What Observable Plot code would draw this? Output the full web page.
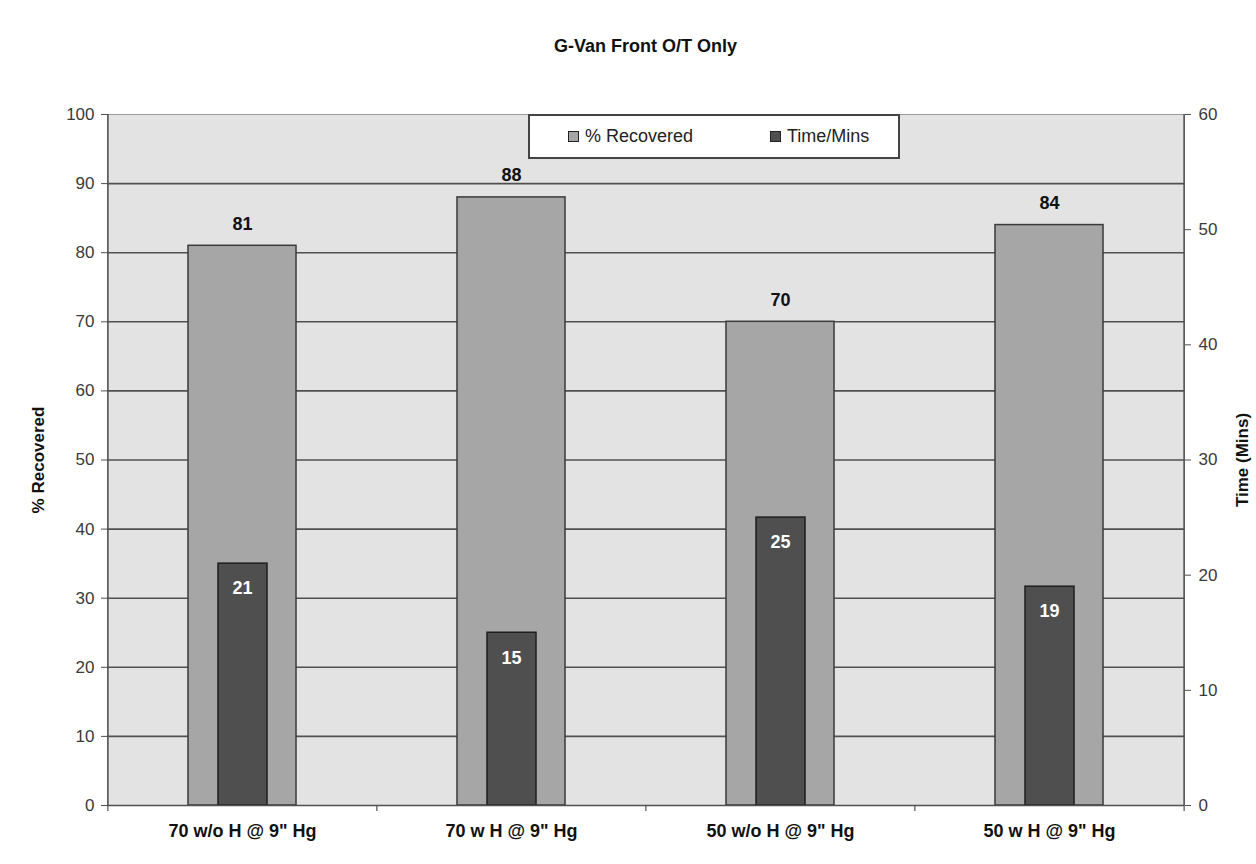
<!DOCTYPE html>
<html>
<head>
<meta charset="utf-8">
<script src="https://cdn.jsdelivr.net/npm/d3@7"></script>
<script src="https://cdn.jsdelivr.net/npm/@observablehq/plot@0.6"></script>
<style>
  html, body { margin: 0; padding: 0; background: #ffffff; }
  body { width: 1256px; height: 864px; position: relative; font-family: "Liberation Sans", Arial, sans-serif; }
  #title { height: 80px; box-sizing: border-box; padding-left: 35px; padding-top: 36px;
           text-align: center; font-weight: bold; font-size: 18px; color: #111; }
  #legend { position: absolute; left: 528px; top: 114px; width: 372px; height: 45px; box-sizing: border-box;
            background: #fff; border: 2px solid #444; font-size: 18px; color: #222; }
  #legend .item { display: flex; align-items: center; position: absolute; top: 0; height: 41px; }
  #legend .sw { width: 9px; height: 9px; border: 1px solid #222; margin-right: 6px; }
</style>
</head>
<body>
<div id="title">G-Van Front O/T Only</div>
<div id="chart"></div>
<div id="legend">
  <div class="item" style="left:38px"><span class="sw" style="background:#a6a6a6"></span>% Recovered</div>
  <div class="item" style="left:240px"><span class="sw" style="background:#4f4f4f"></span>Time/Mins</div>
</div>
<script>
// Test configurations along the x axis
const categories = ["70 w/o H @ 9\" Hg", "70 w H @ 9\" Hg", "50 w/o H @ 9\" Hg", "50 w H @ 9\" Hg"];
// Percent recovered (left axis, 0–100)
const recovered = [81, 88, 70, 84];
// Recovery time in minutes (right axis, 0–60)
const timeMins = [21, 15, 25, 19];
// Tick values for both axes
const leftTicks = [0, 10, 20, 30, 40, 50, 60, 70, 80, 90, 100];
const rightTicks = [0, 10, 20, 30, 40, 50, 60];

const rows = categories.map((cat, i) => ({cat, recovered: recovered[i], time: timeMins[i]}));

// Minutes are drawn on the percentage scale: 60 min spans the full 0–100 range
const toLeft = m => m * 100 / 60;

const width = 1256, height = 784;
const marginLeft = 107, marginRight = 72, marginTop = 34, marginBottom = 59;
const step = (width - marginLeft - marginRight) / categories.length;

const tickFont = {fontSize: 17, fill: "#3a3a3a"};

const chart = Plot.plot({
  width, height, marginLeft, marginRight, marginTop, marginBottom,
  style: {fontFamily: "'Liberation Sans', Arial, sans-serif", background: "transparent", overflow: "visible"},
  x: {domain: categories, paddingInner: 0.6, paddingOuter: 0.3},
  y: {domain: [0, 100]},
  marks: [
    Plot.frame({fill: "#e3e3e3"}),
    Plot.gridY(leftTicks.filter(t => t > 0 && t < 100), {stroke: "#505050", strokeOpacity: 1, strokeWidth: 1.6}),
    Plot.ruleY([100], {stroke: "#9a9a9a", strokeWidth: 1.2}),
    // left / right axis lines
    Plot.ruleX([categories[0]], {dx: -step / 2, y1: 0, y2: 100, stroke: "#505050", strokeWidth: 1.6}),
    Plot.ruleX([categories[categories.length - 1]], {dx: step / 2, y1: 0, y2: 100, stroke: "#505050", strokeWidth: 1.6}),
    // category separators below the baseline
    Plot.ruleX(categories, {dx: -step / 2, y1: 0, y2: 0, insetBottom: -6, stroke: "#505050", strokeWidth: 1.2}),
    Plot.ruleX([categories[categories.length - 1]], {dx: step / 2, y1: 0, y2: 0, insetBottom: -6, stroke: "#505050", strokeWidth: 1.2}),
    // % recovered bars
    Plot.barY(rows, {x: "cat", y: "recovered", fill: "#a6a6a6", stroke: "#3a3a3a", strokeWidth: 1.5}),
    // time bars, narrower and in front
    Plot.barY(rows, {x: "cat", y: d => toLeft(d.time), insetLeft: 30, insetRight: 29, fill: "#4f4f4f", stroke: "#1e1e1e", strokeWidth: 1.5}),
    Plot.ruleY([0], {stroke: "#505050", strokeWidth: 1.6}),
    // value labels
    Plot.text(rows, {x: "cat", y: "recovered", text: d => String(d.recovered), dy: -22, fontWeight: "bold", fontSize: 18, fill: "#111"}),
    Plot.text(rows, {x: "cat", y: d => toLeft(d.time), text: d => String(d.time), dy: 25, fontWeight: "bold", fontSize: 18, fill: "#ffffff"}),
    // axes
    Plot.axisY(leftTicks, {anchor: "left", tickSize: 6, tickPadding: 7, stroke: "#505050", ...tickFont, label: null}),
    Plot.axisY(rightTicks.map(toLeft), {anchor: "right", tickSize: 6, tickPadding: 8, stroke: "#505050",
      tickFormat: d => String(Math.round(d * 60 / 100)), ...tickFont, label: null}),
    Plot.axisX({tickSize: 0, tickPadding: 19, fontSize: 18, fontWeight: "bold", fill: "#111", label: null}),
    // axis titles
    Plot.text(["% Recovered"], {frameAnchor: "left", textAnchor: "middle", rotate: -90, dx: -69, fontWeight: "bold", fontSize: 17, fill: "#111"}),
    Plot.text(["Time (Mins)"], {frameAnchor: "right", textAnchor: "middle", rotate: -90, dx: 58, fontWeight: "bold", fontSize: 17, fill: "#111"})
  ]
});
document.getElementById("chart").appendChild(chart);
</script>
</body>
</html>
